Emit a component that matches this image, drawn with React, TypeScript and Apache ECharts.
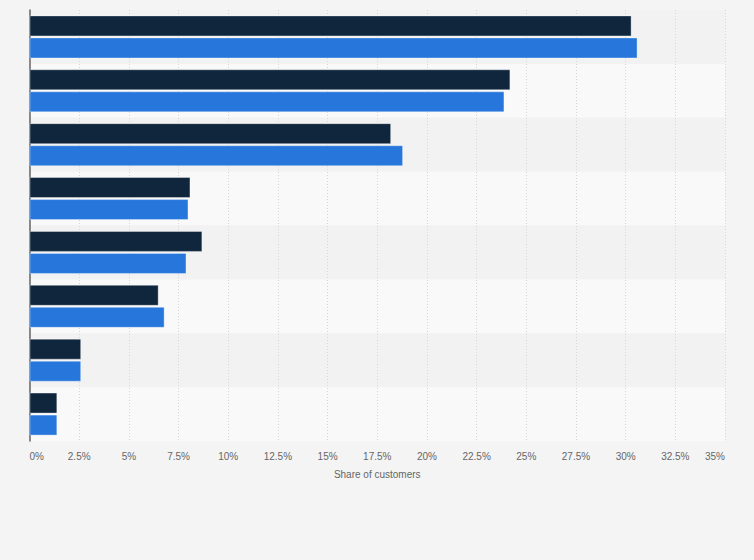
import React, { useEffect, useRef } from "react";
import * as echarts from "echarts";

const categories = [
  "Category 1",
  "Category 2",
  "Category 3",
  "Category 4",
  "Category 5",
  "Category 6",
  "Category 7",
  "Category 8",
];
const seriesDarkName = "Series 1";
const seriesBlueName = "Series 2";
const seriesDark = [30.3, 24.2, 18.2, 8.1, 8.7, 6.5, 2.6, 1.4];
const seriesBlue = [30.6, 23.9, 18.8, 8.0, 7.9, 6.8, 2.6, 1.4];
const axisMin = 0;
const axisMax = 35;
const axisStep = 2.5;
const axisTitle = "Share of customers";

export default function App() {
  const ref = useRef<HTMLDivElement>(null);
  useEffect(() => {
    if (!ref.current) return;
    const chart = echarts.init(ref.current, null, { renderer: "svg" });
    const font = "'Liberation Sans', Arial, Helvetica, sans-serif";
    chart.setOption({
      animation: false,
      backgroundColor: "#f4f4f4",
      textStyle: { fontFamily: font },
      grid: { left: 29.5, right: 29, top: 10, bottom: 119, containLabel: false },
      xAxis: {
        type: "value",
        min: axisMin,
        max: axisMax,
        interval: axisStep,
        name: axisTitle,
        nameLocation: "middle",
        nameGap: 28,
        nameTextStyle: { color: "#666666", fontSize: 10, fontFamily: font },
        axisLine: { show: false },
        axisTick: { show: false },
        axisLabel: {
          color: "#666666",
          fontSize: 10,
          fontFamily: font,
          margin: 10,
          alignMinLabel: "left",
          alignMaxLabel: "right",
          formatter: (v: number) => `${v}%`,
        },
        splitLine: {
          show: true,
          lineStyle: { color: "#d6d6d6", type: [1, 2], width: 1 },
        },
      },
      yAxis: {
        type: "category",
        data: categories,
        inverse: true,
        axisLine: { show: true, lineStyle: { color: "#666666", width: 1.5 } },
        axisTick: { show: false },
        axisLabel: { show: false },
        splitLine: { show: false },
        splitArea: {
          show: true,
          areaStyle: { color: ["#f2f2f2", "#f9f9f9"] },
        },
      },
      series: [
        {
          name: seriesDarkName,
          type: "bar",
          data: seriesDark,
          barWidth: 21,
          barGap: "5%",
          itemStyle: {
            color: "#10263d",
            borderColor: "rgba(255,255,255,0.35)",
            borderWidth: 1,
          },
        },
        {
          name: seriesBlueName,
          type: "bar",
          data: seriesBlue,
          barWidth: 21,
          barGap: "5%",
          itemStyle: {
            color: "#2776dc",
            borderColor: "rgba(255,255,255,0.35)",
            borderWidth: 1,
          },
        },
      ],
    });
    return () => chart.dispose();
  }, []);
  return (
    <div
      ref={ref}
      style={{ position: "fixed", left: 0, top: 0, width: 754, height: 560 }}
    />
  );
}
